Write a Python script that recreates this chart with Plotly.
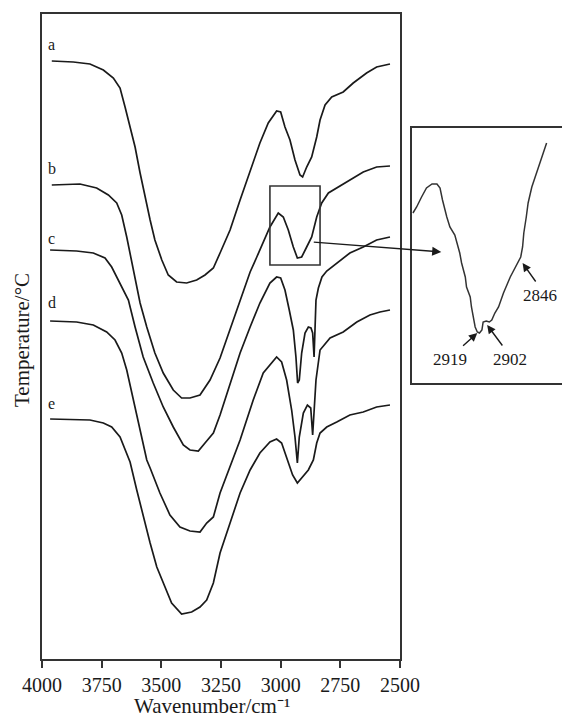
import plotly.graph_objects as go

# ---- data (wavenumber in cm^-1, relative signal in arbitrary units) ----
wn_a = [3959, 3869, 3799, 3743, 3701, 3673, 3652, 3631, 3610, 3589, 3568, 3547, 3527, 3498, 3471, 3436,
        3394, 3352, 3317, 3282, 3254, 3212, 3170, 3128, 3087, 3052, 3017, 3000, 2982, 2961, 2940, 2919,
        2908, 2891, 2870, 2849, 2835, 2814, 2786, 2738, 2696, 2640, 2598, 2542]
sig_a = [598, 597, 595, 589, 581, 571, 552, 532, 512, 486, 462, 439, 419, 399, 384, 377,
         376, 379, 384, 391, 406, 429, 459, 489, 516, 536, 548, 547, 532, 519, 499, 484,
         482, 492, 502, 522, 539, 554, 562, 567, 576, 586, 592, 595]

wn_b = [3959, 3841, 3771, 3722, 3687, 3666, 3645, 3624, 3589, 3561, 3527, 3492, 3450, 3415, 3380, 3338,
        3296, 3254, 3212, 3170, 3128, 3100, 3045, 3010, 2989, 2968, 2947, 2930, 2912, 2891, 2870, 2849,
        2828, 2800, 2759, 2710, 2654, 2598, 2542]
sig_b = [474, 475, 471, 464, 456, 444, 422, 397, 356, 332, 306, 286, 269, 261, 261, 264,
         279, 301, 329, 359, 387, 402, 432, 446, 442, 429, 412, 401, 402, 412, 422, 442,
         456, 466, 472, 479, 487, 492, 493]

wn_c = [3966, 3855, 3785, 3736, 3708, 3686, 3665, 3638, 3610, 3576, 3534, 3492, 3450, 3408, 3380, 3345,
        3317, 3282, 3254, 3212, 3170, 3128, 3087, 3045, 3017, 3000, 2982, 2964, 2947, 2936, 2929, 2922,
        2912, 2898, 2884, 2873, 2866, 2860, 2856, 2852, 2842, 2827, 2807, 2765, 2710, 2654, 2598, 2542]
sig_c = [409, 408, 406, 401, 392, 382, 371, 359, 332, 302, 276, 252, 232, 214, 209, 208,
         216, 226, 244, 276, 306, 332, 356, 376, 382, 381, 369, 349, 329, 302, 276, 279,
         306, 326, 332, 331, 326, 302, 326, 359, 371, 382, 388, 396, 406, 412, 419, 422]

wn_d = [3966, 3855, 3785, 3729, 3694, 3666, 3645, 3624, 3603, 3582, 3561, 3547, 3506, 3464, 3422, 3380,
        3338, 3310, 3282, 3254, 3212, 3170, 3115, 3073, 3017, 2996, 2975, 2954, 2940, 2930, 2922, 2905,
        2888, 2874, 2866, 2860, 2852, 2835, 2793, 2738, 2681, 2626, 2584, 2542]
sig_d = [338, 337, 334, 327, 319, 306, 289, 266, 246, 222, 199, 191, 166, 144, 132, 128,
         127, 136, 142, 166, 192, 219, 259, 286, 302, 297, 279, 249, 222, 196, 222, 246,
         254, 251, 224, 249, 279, 309, 321, 327, 337, 344, 347, 349]

wn_e = [3966, 3799, 3743, 3708, 3673, 3652, 3631, 3603, 3576, 3547, 3519, 3492, 3457, 3415, 3373, 3338,
        3310, 3282, 3254, 3212, 3170, 3128, 3087, 3045, 3017, 2996, 2975, 2950, 2930, 2912, 2884, 2863,
        2849, 2835, 2807, 2765, 2710, 2654, 2598, 2542]
sig_e = [240, 239, 236, 232, 222, 209, 197, 169, 142, 116, 92, 76, 56, 45, 47, 52,
         59, 76, 106, 136, 166, 189, 206, 217, 220, 216, 201, 184, 176, 181, 189, 199,
         216, 226, 232, 237, 244, 247, 252, 254]

# enlarged region (inset)
wn_zoom = [3023, 3017, 3009, 3001, 2992, 2984, 2979, 2975, 2968, 2963, 2955, 2949, 2947, 2944, 2938, 2936,
           2930, 2928, 2925, 2922, 2918.5, 2915, 2911, 2909, 2904, 2899, 2895, 2890, 2884, 2876, 2865, 2857,
           2852, 2848, 2845, 2843, 2839, 2836, 2830, 2822, 2814, 2806]
sig_zoom = [170, 176, 186, 195, 199, 199, 195, 183, 166, 156, 148, 136, 130, 120, 106, 96,
            86, 76, 66, 56, 51, 50, 53, 61, 62, 61, 63, 70, 76, 90, 106, 116,
            121, 126, 136, 150, 166, 180, 196, 210, 226, 240]

curve_names = ["a", "b", "c", "d", "e"]
curve_wn = [wn_a, wn_b, wn_c, wn_d, wn_e]
curve_sig = [sig_a, sig_b, sig_c, sig_d, sig_e]
label_sig = [615, 491, 421, 357, 256]       # vertical position of the letters a-e
x_ticks = [4000, 3750, 3500, 3250, 3000, 2750, 2500]
peak_labels = ["2919", "2902", "2846"]
peak_wn = [2918.5, 2902.5, 2845]
peak_sig = [50, 58, 120]

# ---- figure ----
W, H = 562, 718
FONT = "Liberation Serif, Times New Roman, serif"
INK = "#1a1a1a"
FRAME = "#333333"

fig = go.Figure()
for name, xs, ys in zip(curve_names, curve_wn, curve_sig):
    fig.add_trace(go.Scatter(x=xs, y=ys, mode="lines", name=name,
                             line=dict(color=INK, width=1.7), xaxis="x", yaxis="y",
                             showlegend=False, hoverinfo="skip"))
fig.add_trace(go.Scatter(x=wn_zoom, y=sig_zoom, mode="lines", line=dict(color="#333", width=1.5),
                         xaxis="x2", yaxis="y2", showlegend=False, hoverinfo="skip"))

main_x = [42 / W, 400 / W]
main_y = [1 - 659 / H, 1 - 14 / H]
ins_x = [411.7 / W, 1.0]
ins_y = [1 - 383 / H, 1 - 128 / H]

fig.update_layout(
    width=W, height=H, autosize=False,
    margin=dict(l=0, r=0, t=0, b=0, pad=0, autoexpand=False),
    paper_bgcolor="white", plot_bgcolor="rgba(0,0,0,0)",
    font=dict(family=FONT, color=INK),
    xaxis=dict(domain=main_x, range=[4000, 2500], tickvals=x_ticks, automargin=False,
               ticktext=[str(t) for t in x_ticks], ticks="outside", ticklen=7, tickwidth=1.5,
               tickcolor=FRAME, showline=True, linecolor=FRAME, linewidth=1.8, mirror=True,
               showgrid=False, zeroline=False, tickfont=dict(size=20, family=FONT, color=INK),
               anchor="y"),
    yaxis=dict(domain=main_y, range=[0, 645], showticklabels=False, ticks="", automargin=False,
               showline=True, linecolor=FRAME, linewidth=1.8, mirror=True,
               showgrid=False, zeroline=False, anchor="x"),
    xaxis2=dict(domain=ins_x, range=[3025, 2781], showticklabels=False, ticks="", automargin=False,
                showline=True, linecolor=FRAME, linewidth=1.6, mirror=True,
                showgrid=False, zeroline=False, anchor="y2"),
    yaxis2=dict(domain=ins_y, range=[0, 255], showticklabels=False, ticks="", automargin=False,
                showline=True, linecolor=FRAME, linewidth=1.6, mirror=False,
                showgrid=False, zeroline=False, anchor="x2"),
)

# box marking the enlarged region on curve b
fig.add_shape(type="rect", xref="x", yref="y", x0=3045, x1=2835, y0=394, y1=473,
              line=dict(color=FRAME, width=1.6))

annotations = []
# letters a-e
for name, s in zip(curve_names, label_sig):
    annotations.append(dict(x=3960, y=s, xref="x", yref="y", text=name, showarrow=False,
                            font=dict(size=16, family=FONT, color=INK), xanchor="center", yanchor="middle"))
# arrow from box to inset
annotations.append(dict(x=2977, y=131, xref="x2", yref="y2", ax=-129, ay=-10, text="",
                        showarrow=True, arrowhead=2, arrowsize=1.3, arrowwidth=1.4, arrowcolor=INK))
# peak labels with arrows
text_pos = [(2963, 24), (2865, 24), (2817, 88)]
tail_pos = [(2944, 36), (2876, 36), (2822, 100)]
for lab, px, py, (tx, ty), (ax_, ay_) in zip(peak_labels, peak_wn, peak_sig, text_pos, tail_pos):
    annotations.append(dict(x=tx, y=ty, xref="x2", yref="y2", text=lab, showarrow=False,
                            font=dict(size=17, family=FONT, color=INK)))
    annotations.append(dict(x=px, y=py, xref="x2", yref="y2", ax=ax_, ay=ay_, axref="x2", ayref="y2",
                            text="", showarrow=True, arrowhead=2, arrowsize=1.2, arrowwidth=1.4,
                            arrowcolor=INK))
# axis titles
annotations.append(dict(x=212 / W, y=1 - 706 / H, xref="paper", yref="paper",
                        text="Wavenumber/cm⁻¹", showarrow=False, borderpad=0,
                        font=dict(size=21, family=FONT, color=INK), xanchor="center", yanchor="middle"))
annotations.append(dict(x=22 / W, y=1 - 340 / H, xref="paper", yref="paper",
                        text="Temperature/°C", textangle=-90, showarrow=False,
                        font=dict(size=21, family=FONT, color=INK), xanchor="center", yanchor="middle"))
fig.update_layout(annotations=annotations)

fig.write_html("out.html", config={"displayModeBar": False},
               post_script="document.body.style.margin='0';document.body.style.overflow='hidden';")
